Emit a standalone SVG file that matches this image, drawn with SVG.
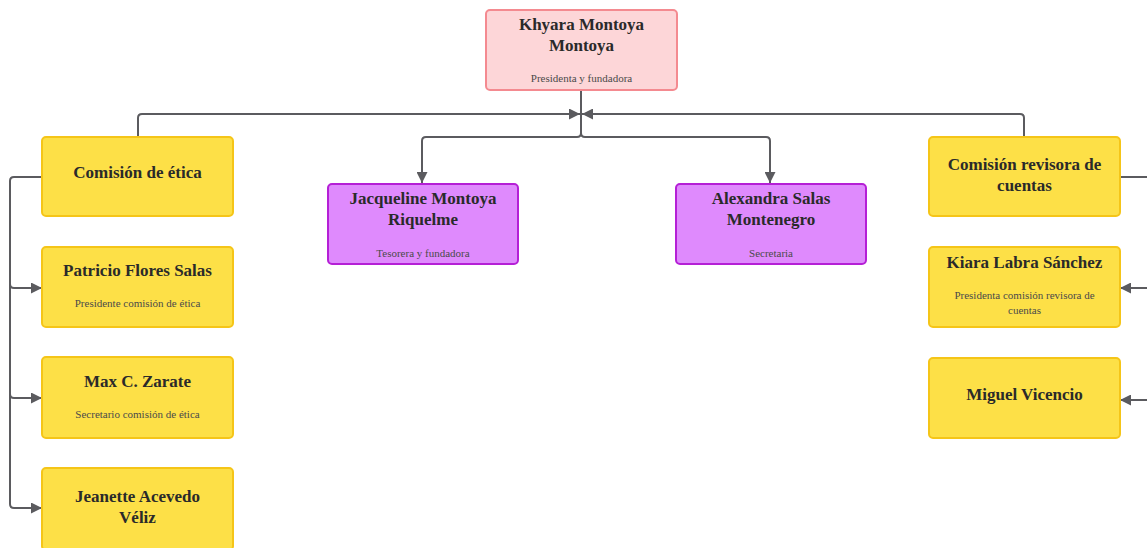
<svg xmlns="http://www.w3.org/2000/svg" width="1147" height="548" viewBox="0 0 1147 548">
<style>
.t{font-family:"Liberation Serif","DejaVu Serif",serif;font-weight:bold;font-size:17px;fill:#2a2a2a;text-anchor:middle}
.s{font-family:"Liberation Serif","DejaVu Serif",serif;font-size:11px;fill:#4a4a4a;text-anchor:middle}
.y{fill:#fde047;stroke:#f5c518;stroke-width:2}
.p{fill:#df8afd;stroke:#b51fd6;stroke-width:2}
.k{fill:#fdd6d8;stroke:#f48a90;stroke-width:2}
.c{fill:none;stroke:#5b5b5f;stroke-width:2}
</style>
<defs>
<marker id="a" viewBox="0 0 10 10" refX="10" refY="5" markerWidth="13" markerHeight="11" markerUnits="userSpaceOnUse" orient="auto"><path d="M0,0 L10,5 L0,10 z" fill="#5b5b5f"/></marker>
</defs>
<rect width="1147" height="548" fill="#ffffff"/>
<g id="connectors">
<path class="c" d="M581,90 V133 Q581,137 577,137 H426 Q422,137 422,141 V183" marker-end="url(#a)"/>
<path class="c" d="M581,133 Q581,137 585,137 H766 Q770,137 770,141 V183" marker-end="url(#a)"/>
<path class="c" d="M138,137 V118 Q138,114 142,114 H580" marker-end="url(#a)"/>
<path class="c" d="M1024,137 V118 Q1024,114 1020,114 H582" marker-end="url(#a)"/>
<path class="c" d="M42,177 H14 Q10,177 10,181 V504 Q10,508 14,508 H42" marker-end="url(#a)"/>
<path class="c" d="M10,284 Q10,288 14,288 H42" marker-end="url(#a)"/>
<path class="c" d="M10,394 Q10,398 14,398 H42" marker-end="url(#a)"/>
<path class="c" d="M1120,177 H1150"/>
<path class="c" d="M1150,288 H1120" marker-end="url(#a)"/>
<path class="c" d="M1150,400 H1120" marker-end="url(#a)"/>
</g>
<g id="n-khyara">
<rect class="k" x="486" y="10" width="191" height="80" rx="4"/>
<text class="t" x="581.5" y="30">Khyara Montoya</text>
<text class="t" x="581.5" y="51">Montoya</text>
<text class="s" x="581.5" y="82">Presidenta y fundadora</text>
</g>
<g id="n-etica">
<rect class="y" x="42" y="137" width="191" height="79" rx="4"/>
<text class="t" x="137.5" y="178">Comisión de ética</text>
</g>
<g id="n-patricio">
<rect class="y" x="42" y="247" width="191" height="80" rx="4"/>
<text class="t" x="137.5" y="276">Patricio Flores Salas</text>
<text class="s" x="137.5" y="307">Presidente comisión de ética</text>
</g>
<g id="n-max">
<rect class="y" x="42" y="357" width="191" height="81" rx="4"/>
<text class="t" x="137.5" y="387">Max C. Zarate</text>
<text class="s" x="137.5" y="418">Secretario comisión de ética</text>
</g>
<g id="n-jeanette">
<rect class="y" x="42" y="468" width="191" height="82" rx="4"/>
<text class="t" x="137.5" y="502">Jeanette Acevedo</text>
<text class="t" x="137.5" y="523">Véliz</text>
</g>
<g id="n-jacqueline">
<rect class="p" x="328" y="184" width="190" height="80" rx="4"/>
<text class="t" x="423" y="204">Jacqueline Montoya</text>
<text class="t" x="423" y="225">Riquelme</text>
<text class="s" x="423" y="257">Tesorera y fundadora</text>
</g>
<g id="n-alexandra">
<rect class="p" x="676" y="184" width="190" height="80" rx="4"/>
<text class="t" x="771" y="204">Alexandra Salas</text>
<text class="t" x="771" y="225">Montenegro</text>
<text class="s" x="771" y="257">Secretaria</text>
</g>
<g id="n-revisora">
<rect class="y" x="929" y="137" width="191" height="79" rx="4"/>
<text class="t" x="1024.5" y="170">Comisión revisora de</text>
<text class="t" x="1024.5" y="191">cuentas</text>
</g>
<g id="n-kiara">
<rect class="y" x="929" y="247" width="191" height="80" rx="4"/>
<text class="t" x="1024.5" y="268">Kiara Labra Sánchez</text>
<text class="s" x="1024.5" y="299">Presidenta comisión revisora de</text>
<text class="s" x="1024.5" y="314">cuentas</text>
</g>
<g id="n-miguel">
<rect class="y" x="929" y="358" width="191" height="80" rx="4"/>
<text class="t" x="1024.5" y="400">Miguel Vicencio</text>
</g>
</svg>
